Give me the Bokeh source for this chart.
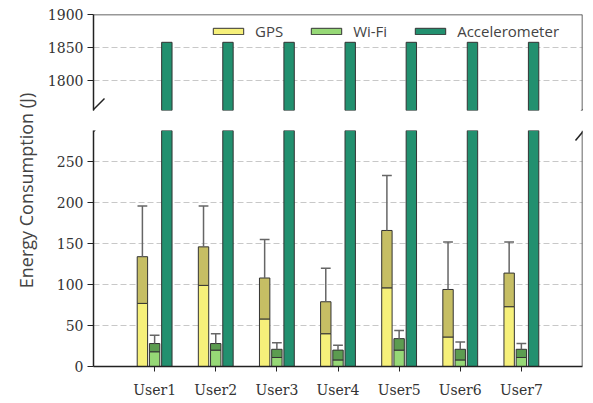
import numpy as np
from bokeh.plotting import figure
from bokeh.layouts import column, row
from bokeh.models import Range1d, FixedTicker, Label, Arrow, Span
from bokeh.embed import file_html
from bokeh.resources import INLINE

users = ["User1", "User2", "User3", "User4", "User5", "User6", "User7"]
gps_low = [77, 99, 58, 40, 96, 36, 73]
gps_high = [134, 146, 108, 79, 166, 94, 114]
gps_max = [196, 196, 155, 120, 233, 152, 152]
wifi_low = [18, 20, 11, 8, 20, 8, 11]
wifi_high = [28, 28, 21, 20, 34, 21, 21]
wifi_max = [38, 40, 29, 26, 44, 30, 28]
accel = [1858, 1858, 1858, 1858, 1858, 1858, 1858]
upper_ticks = [1800, 1850, 1900]
lower_ticks = [0, 50, 100, 150, 200, 250]

C_GPS = "#f6f07a"
C_GPS2 = "#c6be64"
C_WIFI = "#96d876"
C_WIFI2 = "#5c9c50"
C_ACC = "#22906f"
EDGE = "#333333"
WHISK = "#666666"

x = np.arange(1, len(users) + 1)
xg = x - 0.2
xw = x * 1.0
xa = x + 0.2
BW = 0.17
SERIF = "DejaVu Serif"
SANS = "Open Sans"
W = 553
LB, RB = 53, 11


def style_common(p):
    p.outline_line_color = None
    p.background_fill_color = "white"
    p.border_fill_color = "white"
    p.xgrid.grid_line_color = None
    p.ygrid.grid_line_color = "#c8c8c8"
    p.ygrid.grid_line_dash = "6 3"
    p.ygrid.grid_line_width = 1
    p.yaxis.axis_line_color = "#222222"
    p.yaxis.axis_line_width = 1.5
    p.yaxis.major_tick_line_color = "#222222"
    p.yaxis.major_tick_out = 6
    p.yaxis.major_tick_in = 0
    p.yaxis.minor_tick_line_color = None
    p.yaxis.major_label_text_font = SERIF
    p.yaxis.major_label_text_font_size = "14px"
    p.yaxis.major_label_text_color = "#333333"
    p.yaxis.major_label_standoff = 4


def slash(p, x0, y0, x1, y1):
    p.add_layout(Arrow(end=None, start=None, x_start=x0, y_start=y0, x_end=x1, y_end=y1,
                       start_units="screen", end_units="screen",
                       line_color="#222222", line_width=1.5))


# upper panel
top = figure(width=W, height=120, x_range=Range1d(0, 8), y_range=Range1d(1755, 1900),
             output_backend="svg", toolbar_location=None,
             min_border_left=LB, min_border_right=RB, min_border_top=14, min_border_bottom=10)
style_common(top)
top.xaxis.visible = False
top.yaxis.ticker = FixedTicker(ticks=upper_ticks)
# legend proxies for GPS and Wi-Fi (their bars lie below this panel's range)
top.vbar(x=[-10], width=BW, bottom=[0], top=[1], fill_color=C_GPS, line_color=EDGE,
         line_width=1, legend_label="GPS")
top.vbar(x=[-10], width=BW, bottom=[0], top=[1], fill_color=C_WIFI, line_color=EDGE,
         line_width=1, legend_label="Wi-Fi")
top.vbar(x=xa, width=BW, bottom=0, top=accel, fill_color=C_ACC,
         line_color=EDGE, line_width=1, legend_label="Accelerometer")
top.add_layout(Span(location=1900, dimension="width", line_color="#333333", line_width=1.5))
top.add_layout(Span(location=8, dimension="height", line_color="#333333", line_width=1.5))
slash(top, -10, -9, 11, 12)
slash(top, 479, -8, 497, 7)

lg = top.legend[0]
lg.orientation = "horizontal"
lg.location = (116, 69)
lg.border_line_color = None
lg.background_fill_alpha = 0
lg.margin = 0
lg.padding = 0
lg.spacing = 24
lg.glyph_width = 38
lg.glyph_height = 8
lg.label_standoff = 8
lg.label_text_font = SANS
lg.label_text_font_size = "15px"
lg.label_text_color = "#444444"

# lower panel
bot = figure(width=W, height=280, x_range=top.x_range, y_range=Range1d(0, 288),
             output_backend="svg", toolbar_location=None,
             min_border_left=LB, min_border_right=RB, min_border_top=10, min_border_bottom=34)
style_common(bot)
bot.yaxis.ticker = FixedTicker(ticks=lower_ticks)
bot.xaxis.ticker = FixedTicker(ticks=list(x))
bot.xaxis.major_label_overrides = {int(i): u for i, u in zip(x, users)}
bot.xaxis.axis_line_color = "#222222"
bot.xaxis.axis_line_width = 1.5
bot.xaxis.major_tick_line_color = "#222222"
bot.xaxis.major_tick_out = 5
bot.xaxis.major_tick_in = 0
bot.xaxis.minor_tick_line_color = None
bot.xaxis.major_label_text_font = SERIF
bot.xaxis.major_label_text_font_size = "14px"
bot.xaxis.major_label_text_color = "#333333"
bot.xaxis.major_label_standoff = 10

bot.vbar(x=xg, width=BW, bottom=0, top=gps_low, fill_color=C_GPS, line_color=EDGE, line_width=1)
bot.vbar(x=xg, width=BW, bottom=gps_low, top=gps_high, fill_color=C_GPS2, line_color=EDGE, line_width=1)
bot.segment(x0=xg, y0=gps_high, x1=xg, y1=gps_max, line_color=WHISK, line_width=1.5)
bot.segment(x0=xg - 0.08, y0=gps_max, x1=xg + 0.08, y1=gps_max, line_color=WHISK, line_width=1.5)
bot.vbar(x=xw, width=BW, bottom=0, top=wifi_low, fill_color=C_WIFI, line_color=EDGE, line_width=1)
bot.vbar(x=xw, width=BW, bottom=wifi_low, top=wifi_high, fill_color=C_WIFI2, line_color=EDGE, line_width=1)
bot.segment(x0=xw, y0=wifi_high, x1=xw, y1=wifi_max, line_color=WHISK, line_width=1.5)
bot.segment(x0=xw - 0.08, y0=wifi_max, x1=xw + 0.08, y1=wifi_max, line_color=WHISK, line_width=1.5)
bot.vbar(x=xa, width=BW, bottom=0, top=accel, fill_color=C_ACC, line_color=EDGE, line_width=1)
bot.add_layout(Span(location=8, dimension="height", line_color="#333333", line_width=1.5))
slash(bot, -8, 226, 11, 247)
slash(bot, 482, 226, 497, 244)

# y-axis title spanning both panels
lab = figure(width=40, height=400, x_range=Range1d(0, 1), y_range=Range1d(0, 1),
             output_backend="svg", toolbar_location=None,
             min_border=0, min_border_left=0, min_border_right=0, min_border_top=0, min_border_bottom=0)
lab.axis.visible = False
lab.grid.visible = False
lab.outline_line_color = None
lab.add_layout(Label(x=25, y=210, x_units="screen", y_units="screen",
                     text="Energy Consumption (J)", angle=np.pi / 2,
                     text_align="center", text_baseline="middle",
                     text_font=SANS, text_font_size="18px", text_color="#444444"))

layout = row(lab, column(top, bot, spacing=0), spacing=0)
open("out.html", "w").write(file_html(layout, INLINE))
